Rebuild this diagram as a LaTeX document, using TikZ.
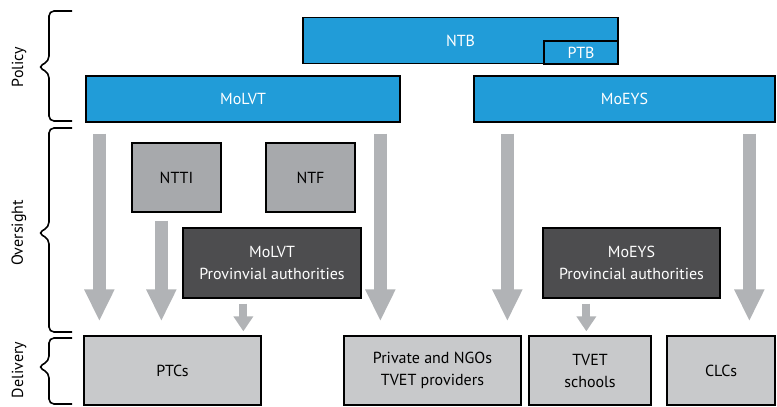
\documentclass[tikz,border=0pt]{standalone}
\usepackage{fontspec}
\setmainfont{PT Sans}
\usetikzlibrary{arrows.meta}

\definecolor{policyblue}{HTML}{219CD8}
\definecolor{oversightgray}{HTML}{A7A9AC}
\definecolor{provgray}{HTML}{4D4D4F}
\definecolor{deliverygray}{HTML}{C8C9CB}
\definecolor{arrowgray}{HTML}{B1B3B6}

\begin{document}
\begin{tikzpicture}[x=1pt, y=-1pt, font=\fontsize{16}{22}\selectfont,
  box/.style={draw=black, line width=1.3pt, inner sep=0pt, align=center},
  bluebox/.style={box, fill=policyblue, text=white, minimum height=46pt},
  oversightbox/.style={box, fill=oversightgray, text=black, minimum height=69pt},
  provbox/.style={box, fill=provgray, text=white, minimum height=70pt},
  deliverybox/.style={box, fill=deliverygray, text=black, minimum height=69pt},
  bigarrow/.style={draw=arrowgray, line width=13pt, -{Triangle[width=28pt,length=32pt]}},
  smallarrow/.style={draw=arrowgray, line width=8pt, -{Triangle[width=19pt,length=15pt]}},
  bracepen/.style={draw=black, line width=1.6pt, rounded corners=5pt},
  sidelabel/.style={rotate=90, text=black}]

\useasboundingbox (0,0) rectangle (777,407);

% Policy level
\node[bluebox, minimum width=315pt] (ntb) at (460.5,40.5) {\raisebox{-4pt}{NTB}};
\node[bluebox, minimum width=74pt, minimum height=23pt] (ptb) at (581,52.5) {PTB};
\node[bluebox, minimum width=314pt] (molvt) at (243,99) {MoLVT};
\node[bluebox, minimum width=301pt] (moeys) at (624.5,99) {MoEYS};

% Oversight level
\node[oversightbox, minimum width=89pt] (ntti) at (176.5,177.5) {NTTI};
\node[oversightbox, minimum width=89pt] (ntf) at (310.5,177.5) {NTF};
\node[provbox, minimum width=178pt] (molvtprov) at (272,263) {MoLVT\\Provinvial authorities};
\node[provbox, minimum width=177pt] (moeysprov) at (631.5,263) {MoEYS\\Provincial authorities};

% Delivery level
\node[deliverybox, minimum width=177pt] (ptcs) at (172.5,370.5) {PTCs};
\node[deliverybox, minimum width=177pt] (private) at (432.5,370.5) {Private and NGOs\\TVET providers};
\node[deliverybox, minimum width=122pt] (tvet) at (590,370.5) {TVET\\schools};
\node[deliverybox, minimum width=108pt] (clcs) at (721,370.5) {CLCs};

% Arrows down to the providers
\draw[bigarrow, shorten <=11pt, shorten >=14pt] ([xshift=14pt]molvt.south west) -- ([xshift=16pt]ptcs.north west);
\draw[bigarrow, shorten <=8pt, shorten >=14pt] ([xshift=30pt]ntti.south west) -- ([xshift=78pt]ptcs.north west);
\draw[smallarrow, shorten <=5pt, shorten >=4pt] ([xshift=61pt]molvtprov.south west) -- ([xshift=160pt]ptcs.north west);
\draw[bigarrow, shorten <=11pt, shorten >=14pt] ([xshift=295pt]molvt.south west) -- ([xshift=37pt]private.north west);
\draw[bigarrow, shorten <=11pt, shorten >=14pt] ([xshift=34pt]moeys.south west) -- ([xshift=164pt]private.north west);
\draw[smallarrow, shorten <=5pt, shorten >=4pt] ([xshift=44pt]moeysprov.south west) -- ([xshift=58pt]tvet.north west);
\draw[bigarrow, shorten <=11pt, shorten >=14pt] ([xshift=276pt]moeys.south west) -- ([xshift=83pt]clcs.north west);

% Braces and level names
\draw[bracepen] (72,11) -- (49,11) -- (49,61) -- (38,67) -- (49,73) -- (49,121) -- (72,121);
\draw[bracepen] (72,128) -- (49,128) -- (49,227) -- (38,233) -- (49,239) -- (49,332) -- (72,332);
\draw[bracepen] (72,338) -- (49,338) -- (49,361) -- (38,367) -- (49,373) -- (49,404) -- (72,404);

\node[sidelabel] (policy) at (19,67) {Policy};
\node[sidelabel] (oversight) at (19,233) {Oversight};
\node[sidelabel] (delivery) at (19,370) {Delivery};

\end{tikzpicture}
\end{document}
